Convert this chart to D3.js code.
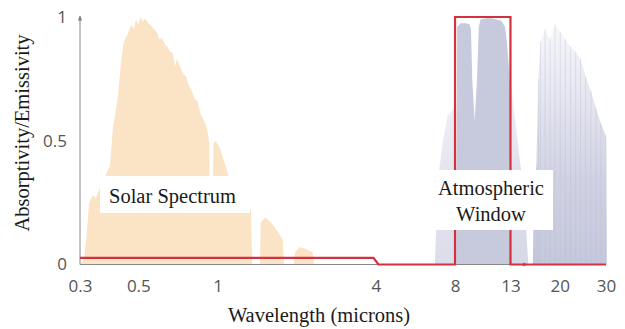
<!DOCTYPE html>
<html>
<head>
<meta charset="utf-8">
<script src="https://cdn.jsdelivr.net/npm/d3@7"></script>
<style>
  html, body { margin: 0; padding: 0; background: #fff; }
  svg { display: block; }
</style>
</head>
<body>
<div id="chart"></div>
<script>
// -- tick labels
const xTicks = [0.3, 0.5, 1, 4, 8, 13, 20, 30];
const yTicks = [0, 0.5, 1];

// -- solar spectrum (wavelength in microns, relative intensity)
const solarWl = [0.30, 0.31, 0.318, 0.325, 0.335, 0.345, 0.36, 0.375, 0.39, 0.40, 0.41, 0.418, 0.43, 0.44,
  0.455, 0.47, 0.48, 0.49, 0.50, 0.51, 0.52, 0.53, 0.545, 0.56, 0.575, 0.59, 0.60, 0.615, 0.63, 0.645,
  0.66, 0.675, 0.69, 0.70, 0.72, 0.74, 0.76, 0.78, 0.80, 0.82, 0.84, 0.86, 0.88, 0.90, 0.92, 0.93,
  0.935, 0.96, 0.965, 0.985, 1.02, 1.05, 1.08, 1.10, 1.11, 1.2, 1.3, 1.34, 1.355, 1.45, 1.46, 1.52,
  1.6, 1.7, 1.77, 1.79, 1.95, 1.97, 2.05, 2.15, 2.3, 2.33];
const solarVal = [0, 0.02, 0.12, 0.25, 0.28, 0.27, 0.32, 0.36, 0.40, 0.55, 0.62, 0.68, 0.82, 0.90,
  0.93, 0.97, 0.95, 0.99, 0.97, 1.0, 0.98, 0.995, 0.975, 0.965, 0.95, 0.935, 0.91, 0.915, 0.89, 0.88,
  0.86, 0.855, 0.80, 0.83, 0.80, 0.77, 0.76, 0.72, 0.70, 0.67, 0.66, 0.61, 0.59, 0.57, 0.53, 0.49,
  0.24, 0.25, 0.49, 0.50, 0.47, 0.43, 0.39, 0.36, 0.25, 0.24, 0.23, 0.22, 0, 0, 0.17, 0.19,
  0.17, 0.13, 0.10, 0, 0, 0.05, 0.07, 0.065, 0.05, 0];

// -- atmospheric transmission: main window, faint edges, far-IR cluster
const windowWl = [8.1, 8.15, 8.4, 8.8, 9.1, 9.2, 9.3, 9.5, 9.7, 9.85, 10.0, 10.5, 11, 11.5, 12, 12.4, 12.6, 12.8, 13.0, 13.1];
const windowVal = [0, 0.96, 0.975, 0.975, 0.97, 0.95, 0.75, 0.58, 0.75, 0.96, 0.99, 0.995, 0.995, 0.99, 0.985, 0.96, 0.9, 0.8, 0.7, 0];
const leftEdgeWl = [6.7, 6.9, 7.2, 7.5, 7.8, 8.1, 8.15];
const leftEdgeVal = [0, 0.35, 0.5, 0.6, 0.62, 0.65, 0];
const rightEdgeWl = [12.5, 13, 13.5, 14, 14.6, 15.2];
const rightEdgeVal = [0.9, 0.75, 0.6, 0.45, 0.3, 0];
const farWl = [15.8, 16.0, 16.3, 16.6, 16.9, 17.6, 18.4, 19.2, 20.1, 21, 22, 23, 24, 25.1, 26.3, 27.5, 28.7, 30, 30.2];
const farVal = [0, 0.3, 0.4, 0.75, 0.9, 0.95, 0.91, 0.97, 0.94, 0.91, 0.88, 0.86, 0.83, 0.76, 0.70, 0.63, 0.57, 0.52, 0];

// -- selective emitter (red line)
const emitterWl = [0.3, 3.92, 4.09, 8, 8, 13, 13, 30];
const emitterVal = [0.027, 0.027, 0, 0, 1, 1, 0, 0];

const xAxisEnd = 15.1;

const width = 625, height = 329;
const x = d3.scaleLog().domain([0.3, 30]).range([80, 606]);
const y = d3.scaleLinear().domain([0, 1]).range([264.5, 17]);

const svg = d3.select('#chart').append('svg')
  .attr('width', width)
  .attr('height', height);

const defs = svg.append('defs');
const fade = defs.append('linearGradient')
  .attr('id', 'fade')
  .attr('gradientUnits', 'userSpaceOnUse')
  .attr('x1', 0).attr('x2', 0)
  .attr('y1', y(0)).attr('y2', y(1));
fade.append('stop').attr('offset', 0).attr('stop-color', '#c5c7dc').attr('stop-opacity', 1);
fade.append('stop').attr('offset', 0.35).attr('stop-color', '#c5c7dc').attr('stop-opacity', 0.8);
fade.append('stop').attr('offset', 1).attr('stop-color', '#c5c7dc').attr('stop-opacity', 0.1);

defs.append('marker')
  .attr('id', 'arrow')
  .attr('viewBox', '0 -5 10 10')
  .attr('refX', 9)
  .attr('refY', 0)
  .attr('markerWidth', 5)
  .attr('markerHeight', 5)
  .attr('orient', 'auto')
  .append('path')
  .attr('fill', '#777')
  .attr('d', 'M0,-4L10,0L0,4Z');

const area = d3.area()
  .x(d => x(d[0]))
  .y0(y(0))
  .y1(d => y(d[1]));
const zip = (a, b) => a.map((v, i) => [v, b[i]]);

// -- solar spectrum
svg.append('path')
  .datum(zip(solarWl, solarVal))
  .attr('fill', '#fbe4c6')
  .attr('d', area);

// -- atmospheric window
svg.append('path')
  .datum(zip(leftEdgeWl, leftEdgeVal))
  .attr('fill', 'url(#fade)')
  .attr('opacity', 0.6)
  .attr('d', area);
svg.append('path')
  .datum(zip(rightEdgeWl, rightEdgeVal))
  .attr('fill', 'url(#fade)')
  .attr('opacity', 0.7)
  .attr('d', area);
svg.append('path')
  .datum(zip(windowWl, windowVal))
  .attr('fill', '#c7c9dd')
  .attr('d', area);
svg.append('path')
  .datum(zip(farWl, farVal))
  .attr('fill', 'url(#fade)')
  .attr('d', area);
svg.append('g')
  .selectAll('line')
  .data(zip(farWl, farVal).filter(d => d[1] > 0))
  .join('line')
  .attr('x1', d => x(d[0])).attr('x2', d => x(d[0]))
  .attr('y1', y(0)).attr('y2', d => y(d[1]))
  .attr('stroke', '#b8bbd4')
  .attr('stroke-width', 1)
  .attr('opacity', 0.35);

// -- axes
svg.append('line')
  .attr('x1', x(0.3)).attr('x2', x(0.3))
  .attr('y1', y(0)).attr('y2', y(1) - 1)
  .attr('stroke', '#888')
  .attr('marker-end', 'url(#arrow)');
svg.append('line')
  .attr('x1', x(0.3)).attr('x2', x(xAxisEnd))
  .attr('y1', y(0)).attr('y2', y(0))
  .attr('stroke', '#888')
  .attr('marker-end', 'url(#arrow)');

// -- emitter
svg.append('path')
  .datum(zip(emitterWl, emitterVal))
  .attr('fill', 'none')
  .attr('stroke', '#d2323e')
  .attr('stroke-width', 2.2)
  .attr('d', d3.line().x(d => x(d[0])).y(d => y(d[1])));

// -- label boxes
svg.append('rect')
  .attr('x', 100).attr('y', 176).attr('width', 150).attr('height', 37)
  .attr('fill', '#fff');
svg.append('text')
  .attr('x', 109).attr('y', 203)
  .attr('font-family', '"Liberation Serif", "DejaVu Serif", serif')
  .attr('font-size', 20.5)
  .attr('fill', '#1a1a1a')
  .text('Solar Spectrum');

svg.append('rect')
  .attr('x', 428).attr('y', 170).attr('width', 125).attr('height', 60)
  .attr('fill', '#fff');
svg.append('text')
  .attr('x', 491).attr('y', 195)
  .attr('text-anchor', 'middle')
  .attr('font-family', '"Liberation Serif", "DejaVu Serif", serif')
  .attr('font-size', 20.5)
  .attr('fill', '#1a1a1a')
  .selectAll('tspan')
  .data(['Atmospheric', 'Window'])
  .join('tspan')
  .attr('x', 491)
  .attr('dy', (d, i) => i ? 26 : 0)
  .text(d => d);

// -- tick labels
const xAxis = svg.append('g')
  .attr('transform', `translate(0,${y(0)})`)
  .call(d3.axisBottom(x).tickValues(xTicks).tickFormat(d => String(d)).tickSize(0).tickPadding(15));
const yAxis = svg.append('g')
  .attr('transform', `translate(${x(0.3)},0)`)
  .call(d3.axisLeft(y).tickValues(yTicks).tickFormat(d => String(d)).tickSize(0).tickPadding(13));
[xAxis, yAxis].forEach(g => {
  g.select('.domain').remove();
  g.selectAll('text')
    .attr('font-family', '"Open Sans", sans-serif')
    .attr('font-size', 17)
    .attr('fill', '#555');
});

// -- titles
svg.append('text')
  .attr('transform', 'translate(29,133) rotate(-90)')
  .attr('text-anchor', 'middle')
  .attr('font-family', '"Liberation Serif", "DejaVu Serif", serif')
  .attr('font-size', 20.5)
  .attr('fill', '#1a1a1a')
  .text('Absorptivity/Emissivity');
svg.append('text')
  .attr('x', 319).attr('y', 322)
  .attr('text-anchor', 'middle')
  .attr('font-family', '"Liberation Serif", "DejaVu Serif", serif')
  .attr('font-size', 20.5)
  .attr('fill', '#1a1a1a')
  .text('Wavelength (microns)');
</script>
</body>
</html>
